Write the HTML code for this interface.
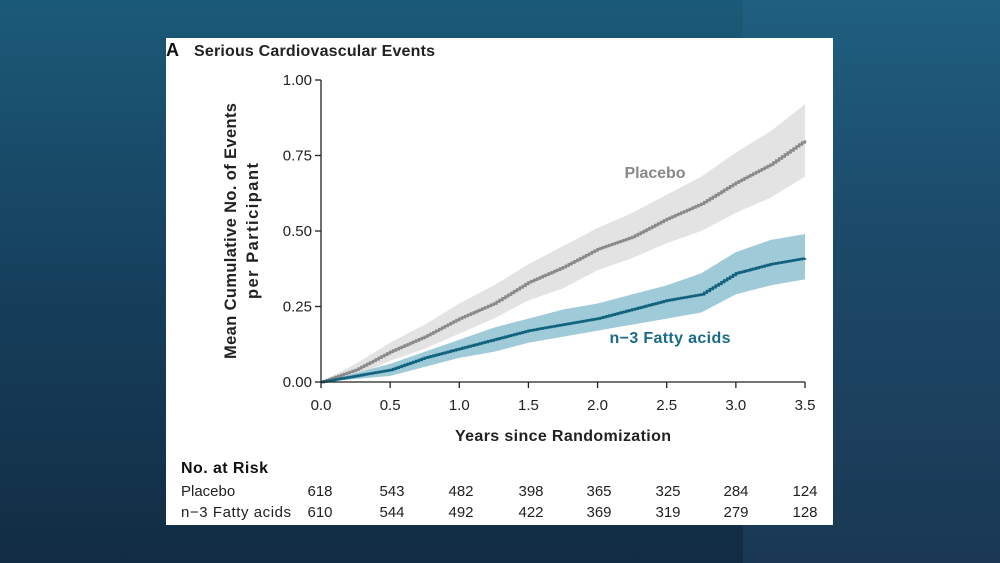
<!DOCTYPE html>
<html><head><meta charset="utf-8"><style>
html,body{margin:0;padding:0;width:1000px;height:563px;overflow:hidden;background:#163a55}
#bg{position:absolute;left:0;top:0;width:1000px;height:563px;background:linear-gradient(180deg,#1b5a78 0%,#16405d 50%,#122c44 100%)}
#bgr{position:absolute;left:743px;top:0;width:257px;height:563px;background:linear-gradient(180deg,#1f5f80 0%,#1c4a6a 40%,#1a3854 100%)}
svg{position:absolute;left:0;top:0;font-family:"Liberation Sans",sans-serif}
</style></head><body>
<div id="bg"></div>
<div id="bgr"></div>
<svg id="c" width="1000" height="563">
<rect x="166" y="38" width="667" height="487" fill="#fff"/>
<text x="166" y="56" font-size="18" font-weight="bold" fill="#111">A</text>
<text x="194" y="56" font-size="16" font-weight="bold" fill="#222" textLength="241">Serious Cardiovascular Events</text>
<g id="plot"></g>
<text transform="translate(236,231) rotate(-90)" text-anchor="middle" font-size="16.5" font-weight="bold" fill="#222" textLength="256">Mean Cumulative No. of Events</text>
<text transform="translate(258,231) rotate(-90)" text-anchor="middle" font-size="16.5" font-weight="bold" fill="#222" textLength="136">per Participant</text>
<text x="563" y="441" text-anchor="middle" font-size="16" font-weight="bold" fill="#222" textLength="216">Years since Randomization</text>
<text x="655" y="178" text-anchor="middle" font-size="16" font-weight="bold" fill="#888" textLength="61">Placebo</text>
<text x="670" y="343" text-anchor="middle" font-size="16" font-weight="bold" fill="#1a6b86" textLength="121">n−3 Fatty acids</text>
<text x="181" y="473" font-size="16" font-weight="bold" fill="#111" textLength="87">No. at Risk</text>
<text x="181" y="496" font-size="15" fill="#222">Placebo</text>
<text x="181" y="517" font-size="15" fill="#222" textLength="110">n−3 Fatty acids</text>
<g id="risk"></g>
</svg>
<script>
const xs=[0,0.25,0.5,0.75,1.0,1.25,1.5,1.75,2.0,2.25,2.5,2.75,3.0,3.25,3.5];
const placebo=[0,0.04,0.10,0.15,0.21,0.26,0.33,0.38,0.44,0.48,0.54,0.59,0.66,0.72,0.80];
const placeboLo=[0,0.02,0.07,0.11,0.16,0.21,0.27,0.31,0.37,0.41,0.46,0.50,0.56,0.61,0.68];
const placeboHi=[0,0.06,0.13,0.19,0.26,0.32,0.39,0.45,0.51,0.56,0.62,0.68,0.76,0.83,0.92];
const n3=[0,0.02,0.04,0.08,0.11,0.14,0.17,0.19,0.21,0.24,0.27,0.29,0.36,0.39,0.41];
const n3Lo=[0,0.01,0.02,0.05,0.08,0.10,0.13,0.15,0.17,0.19,0.21,0.23,0.29,0.32,0.34];
const n3Hi=[0,0.03,0.06,0.10,0.14,0.18,0.21,0.24,0.26,0.29,0.32,0.36,0.43,0.47,0.49];
const xTicks=["0.0","0.5","1.0","1.5","2.0","2.5","3.0","3.5"];
const yTicks=["0.00","0.25","0.50","0.75","1.00"];
const riskPlacebo=[618,543,482,398,365,325,284,124];
const riskN3=[610,544,492,422,369,319,279,128];
const NS="http://www.w3.org/2000/svg";
const X=v=>321+v/3.5*484, Y=v=>382-v*302;
const plot=document.getElementById('plot');
function mk(t,a,p){const e=document.createElementNS(NS,t);for(const k in a)e.setAttribute(k,a[k]);(p||plot).appendChild(e);return e;}
function band(lo,hi,fill,name){let d='M'+X(xs[0])+','+Y(hi[0]);for(let i=1;i<xs.length;i++)d+='L'+X(xs[i])+','+Y(hi[i]);for(let i=xs.length-1;i>=0;i--)d+='L'+X(xs[i])+','+Y(lo[i]);
const e=mk('path',{d:d+'Z',fill:fill});

}
function line(v,col,name){let d='M'+X(xs[0])+','+Y(v[0]);for(let i=1;i<xs.length;i++){const n=12;for(let k=1;k<=n;k++){const xx=xs[i-1]+(xs[i]-xs[i-1])*k/n;const yy=v[i-1]+(v[i]-v[i-1])*k/n;d+='H'+X(xx).toFixed(1)+'V'+Y(yy).toFixed(1);}}
const e=mk('path',{d:d,fill:'none',stroke:col,'stroke-width':2.4});

}
band(placeboLo,placeboHi,'#e3e3e3','placebo-ci-band');
band(n3Lo,n3Hi,'#9fcbd8','n3-ci-band');
line(placebo,'#8a8a8a','placebo-line');
line(n3,'#11627f','n3-line');
let ax=mk('path',{d:'M321,80V382H805',fill:'none',stroke:'#222','stroke-width':1.3});


xTicks.forEach((t,i)=>{const x=X(i*0.5);
const tk=mk('line',{x1:x,x2:x,y1:382,y2:388,stroke:'#222','stroke-width':1.3});


const tx=mk('text',{x:x,y:410,'text-anchor':'middle','font-size':15,fill:'#222'});tx.textContent=t;

});
yTicks.forEach((t,i)=>{const y=Y(i*0.25);
const tk=mk('line',{x1:315,x2:321,y1:y,y2:y,stroke:'#222','stroke-width':1.3});


const tx=mk('text',{x:312,y:y+5,'text-anchor':'end','font-size':15,fill:'#222'});tx.textContent=t;

});
const risk=document.getElementById('risk');
const rx=[320,392,461,531,599,668,736,805];
riskPlacebo.forEach((v,i)=>{const t=mk('text',{x:rx[i],y:496,'text-anchor':'middle','font-size':15,fill:'#222'},risk);t.textContent=v;

});
riskN3.forEach((v,i)=>{const t=mk('text',{x:rx[i],y:517,'text-anchor':'middle','font-size':15,fill:'#222'},risk);t.textContent=v;

});
</script>
</body></html>
